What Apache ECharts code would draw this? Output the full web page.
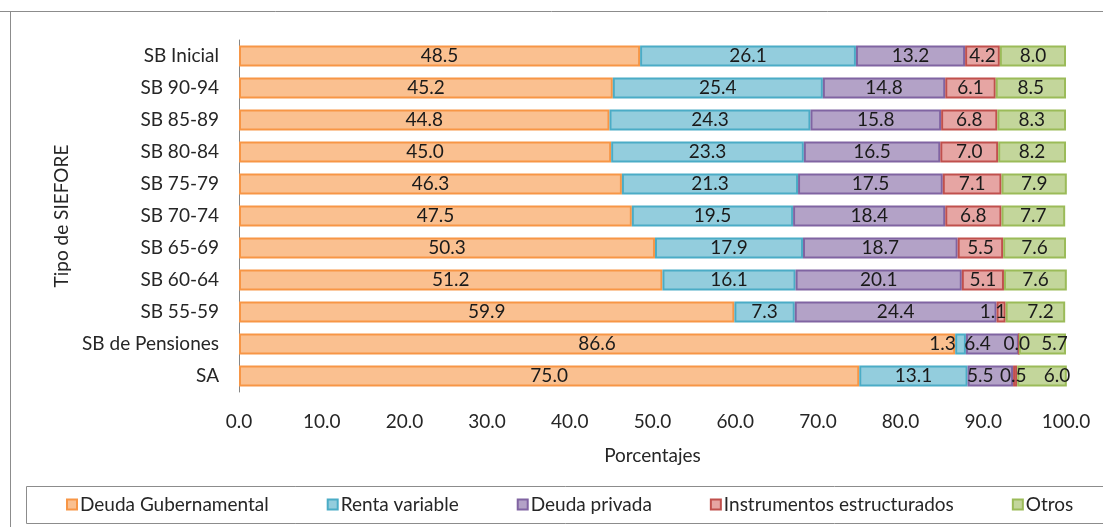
<!DOCTYPE html>
<html>
<head>
<meta charset="utf-8">
<script src="https://cdn.jsdelivr.net/npm/echarts@6/dist/echarts.min.js"></script>
<style>
html,body{margin:0;padding:0;background:#fff;}
#chart{width:1103px;height:527px;}
</style>
</head>
<body>
<div id="chart"></div>
<script>
const categories = ["SB Inicial","SB 90-94","SB 85-89","SB 80-84","SB 75-79","SB 70-74","SB 65-69","SB 60-64","SB 55-59","SB de Pensiones","SA"];
const deudaGub   = [48.5,45.2,44.8,45.0,46.3,47.5,50.3,51.2,59.9,86.6,75.0];
const rentaVar   = [26.1,25.4,24.3,23.3,21.3,19.5,17.9,16.1,7.3,1.3,13.1];
const deudaPriv  = [13.2,14.8,15.8,16.5,17.5,18.4,18.7,20.1,24.4,6.4,5.5];
const instrEst   = [4.2,6.1,6.8,7.0,7.1,6.8,5.5,5.1,1.1,0.0,0.5];
const otros      = [8.0,8.5,8.3,8.2,7.9,7.7,7.6,7.6,7.2,5.7,6.0];
const seriesNames = ["Deuda Gubernamental","Renta variable","Deuda privada","Instrumentos estructurados","Otros"];
const xTicks = [0,10,20,30,40,50,60,70,80,90,100];

const FONT = "Lato";
const FS = 19;
const fills   = ["#FAC090","#93CDDD","#B3A2C7","#E6A5A3","#C3D69B"];
const borders = ["#F79646","#4BACC6","#8064A2","#C0504D","#9BBB59"];
const seriesData = [deudaGub,rentaVar,deudaPriv,instrEst,otros];
// horizontal label nudges (px) for crowded small segments: key "seriesIndex-categoryIndex"
const labelNudge = {"1-9":-18,"2-9":-15,"3-9":-2,"4-9":12,"2-10":-10,"3-10":-2,"4-10":15,"3-8":-8,"4-8":5};

const chart = echarts.init(document.getElementById('chart'));
chart.setOption({
  animation:false,
  textStyle:{fontFamily:FONT},
  grid:{left:239,right:37,top:40,bottom:135,containLabel:false},
  xAxis:{
    type:'value',min:xTicks[0],max:xTicks[xTicks.length-1],interval:10,
    axisLine:{show:false},axisTick:{show:false},splitLine:{show:false},
    axisLabel:{formatter:v=>v.toFixed(1),color:'#262626',fontSize:FS,fontFamily:FONT,margin:20},
    name:'Porcentajes',nameLocation:'middle',nameGap:54,
    nameTextStyle:{color:'#262626',fontSize:FS,fontFamily:FONT}
  },
  yAxis:{
    type:'category',data:categories,inverse:true,
    axisLine:{show:true,lineStyle:{color:'#868686',width:1}},
    axisTick:{show:false},
    axisLabel:{color:'#262626',fontSize:FS,fontFamily:FONT,margin:20},
    name:'Tipo de SIEFORE',nameLocation:'middle',nameGap:168,nameRotate:90,
    nameTextStyle:{color:'#262626',fontSize:FS,fontFamily:FONT}
  },
  legend:{
    data:seriesNames,top:490,left:61,itemGap:58,itemWidth:10,itemHeight:10,
    textStyle:{color:'#262626',fontSize:FS,fontFamily:FONT,padding:[0,0,0,-2]},
    icon:'rect'
  },
  graphic:[
    {type:'line',shape:{x1:0,y1:11.5,x2:1103,y2:11.5},style:{stroke:'#8c8c8c',lineWidth:1}},
    {type:'line',shape:{x1:10.5,y1:11,x2:10.5,y2:527},style:{stroke:'#8c8c8c',lineWidth:1}},
    {type:'rect',shape:{x:26.5,y:486.5,width:1090,height:37},style:{fill:'none',stroke:'#8c8c8c',lineWidth:1},z:-1}
  ],
  series:seriesData.map((d,i)=>({
    name:seriesNames[i],type:'bar',stack:'total',
    data:d.map((v,j)=>{
      const n = labelNudge[i+'-'+j];
      return n ? {value:v,label:{offset:[n,0]}} : v;
    }),
    barWidth:21,
    itemStyle:{color:fills[i],borderColor:borders[i],borderWidth:2},
    label:{show:true,position:'inside',formatter:p=>Number(p.value).toFixed(1),color:'#1a1a1a',fontSize:FS,fontFamily:FONT}
  }))
});
</script>
</body>
</html>
